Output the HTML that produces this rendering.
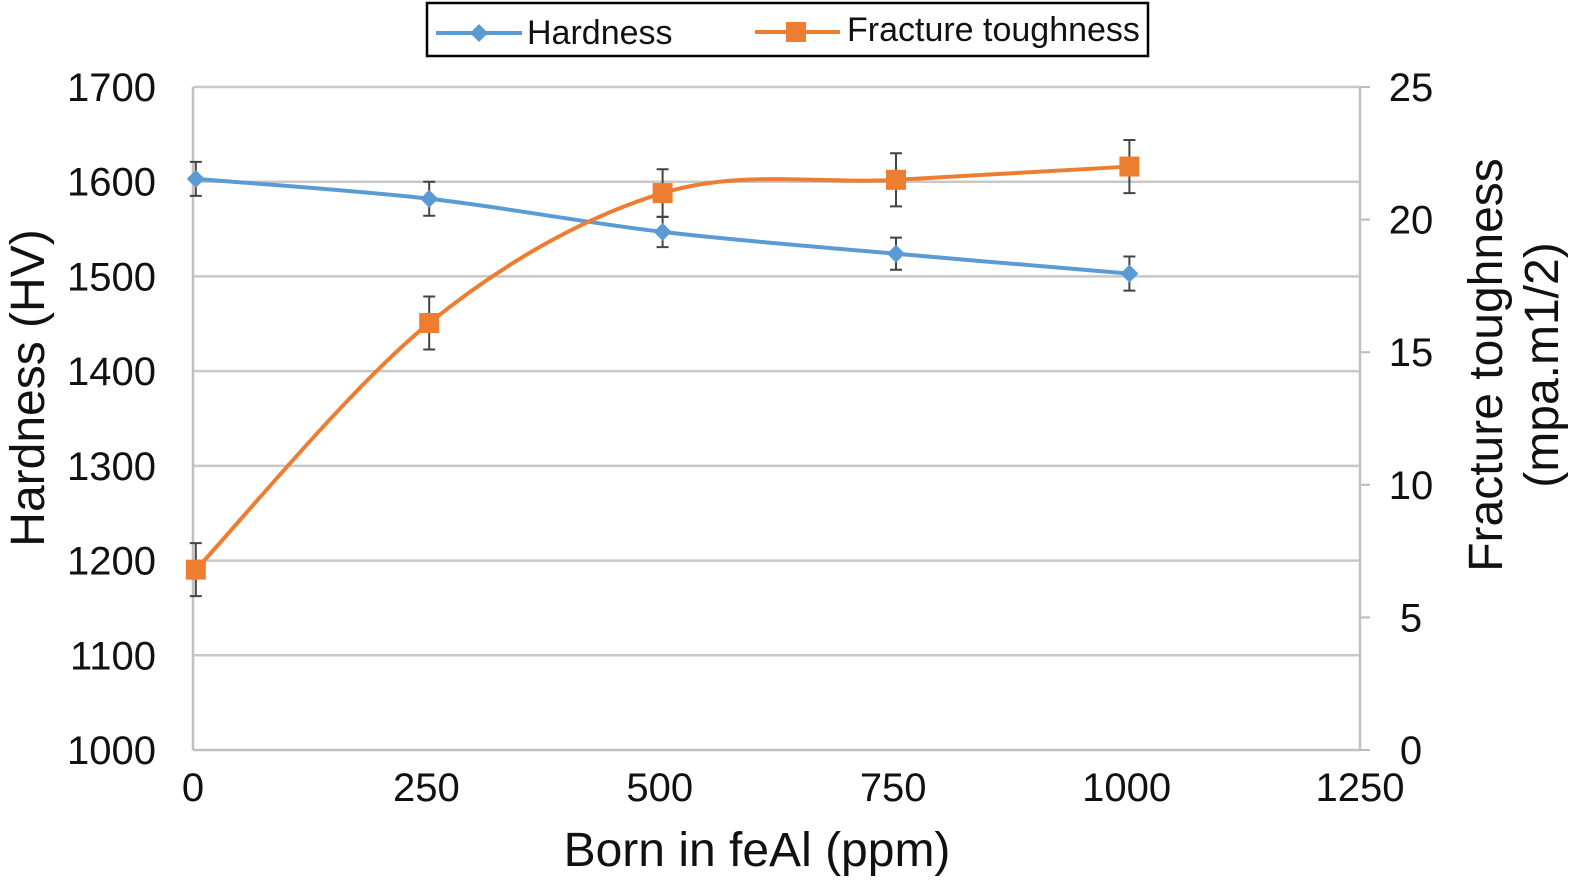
<!DOCTYPE html>
<html><head><meta charset="utf-8"><style>
html,body{margin:0;padding:0;background:#fff;}
svg{display:block;font-family:"Liberation Sans",Arial,sans-serif;}
</style></head><body>
<svg id="chart" width="1584" height="887" viewBox="0 0 1584 887">
<g id="grid"></g>
<g id="axes"></g>
<g id="series"></g>
<text x="0" y="0" transform="translate(44,388) rotate(-90)" text-anchor="middle" font-size="48" fill="#111">Hardness (HV)</text>
<text transform="translate(1502,365) rotate(-90)" text-anchor="middle" font-size="48" fill="#111"><tspan x="0" y="0">Fracture toughness</tspan><tspan x="0" y="56">(mpa.m1/2)</tspan></text>
<text x="757" y="866" text-anchor="middle" font-size="48" fill="#111">Born in feAl (ppm)</text>
<g>
<rect x="427" y="3" width="721" height="53" fill="#fff" stroke="#000" stroke-width="2.5"/>
<g>
<line x1="436" y1="33" x2="522" y2="33" stroke="#5b9bd5" stroke-width="4"/>
<path d="M479 24 L488 33 L479 42 L470 33Z" fill="#5b9bd5"/>
<text x="527" y="44" font-size="34" fill="#111">Hardness</text></g>
<g>
<line x1="755" y1="32" x2="840" y2="32" stroke="#ed7d31" stroke-width="4"/>
<rect x="786" y="22" width="20" height="20" fill="#ed7d31"/>
<text x="847" y="41" font-size="34" fill="#111">Fracture toughness</text></g>
</g>
</svg>
<script>
const xCats=[0,250,500,750,1000];
const hardness=[1603,1582,1547,1524,1503];
const hardErr=[18,18,16,17,18];
const toughness=[6.8,16.1,21.0,21.5,22.0];
const toughErr=[1.0,1.0,0.9,1.0,1.0];
const xTicks=[0,250,500,750,1000,1250];
const yLeftTicks=[1000,1100,1200,1300,1400,1500,1600,1700];
const yRightTicks=[0,5,10,15,20,25];

const NS="http://www.w3.org/2000/svg";
const X0=193,X1=1360,Y0=750,Y1=87;
const sx=v=>X0+(v+3)/1250*(X1-X0);
const sxT=v=>X0+v/1250*(X1-X0);
const syL=v=>Y0-(v-1000)/700*(Y0-Y1);
const syR=v=>Y0-v/25*(Y0-Y1);
function mk(tag,attrs,parent){const e=document.createElementNS(NS,tag);for(const k in attrs)e.setAttribute(k,attrs[k]);parent.appendChild(e);return e;}
const grid=document.getElementById('grid'),axes=document.getElementById('axes'),ser=document.getElementById('series');

yLeftTicks.forEach(t=>{
 if(t>1000){const l=mk('line',{x1:X0,x2:X1,y1:syL(t),y2:syL(t),stroke:'#c8c8c8','stroke-width':2.5},grid);
 
 }
 const tx=mk('text',{x:156,y:syL(t)+14,'text-anchor':'end','font-size':40,fill:'#111'},axes);tx.textContent=t;
 
 
});
yRightTicks.forEach(t=>{
 const tk=mk('line',{x1:X1,x2:X1+10,y1:syR(t),y2:syR(t),stroke:'#bbb','stroke-width':2},axes);
 
 
 const tx=mk('text',{x:1411,y:syR(t)+14,'text-anchor':'middle','font-size':40,fill:'#111'},axes);tx.textContent=t;
 
 
});
xTicks.forEach(t=>{
 const tx=mk('text',{x:sxT(t),y:801,'text-anchor':'middle','font-size':40,fill:'#111'},axes);tx.textContent=t;
 
 
});
[[X0,Y1,X0,Y0],[X1,Y1,X1,Y0],[X0,Y0,X1,Y0]].forEach(a=>{
 const l=mk('line',{x1:a[0],y1:a[1],x2:a[2],y2:a[3],stroke:'#c0c0c0','stroke-width':2.5},axes);
 
 
});

function smooth(pts){let d=`M${pts[0][0]},${pts[0][1]}`;
 for(let i=0;i<pts.length-1;i++){const p0=pts[i-1]||pts[i],p1=pts[i],p2=pts[i+1],p3=pts[i+2]||p2;
  d+=` C${p1[0]+(p2[0]-p0[0])/6},${p1[1]+(p2[1]-p0[1])/6} ${p2[0]-(p3[0]-p1[0])/6},${p2[1]-(p3[1]-p1[1])/6} ${p2[0]},${p2[1]}`;}
 return d;}
function drawSeries(vals,errs,sy,color,name,marker){
 const pts=vals.map((v,i)=>[sx(xCats[i]),sy(v)]);
 const p=mk('path',{d:smooth(pts),fill:'none',stroke:color,'stroke-width':4},ser);
 
 
 vals.forEach((v,i)=>{
  const x=sx(xCats[i]),yt=sy(v+errs[i]),yb=sy(v-errs[i]);
  const eb=mk('path',{d:`M${x},${yt}V${yb}M${x-6},${yt}H${x+6}M${x-6},${yb}H${x+6}`,stroke:'#444','stroke-width':2,fill:'none'},ser);
  
  
 });
 pts.forEach(([x,y])=>{
  let m;
  if(marker==='diamond')m=mk('path',{d:`M${x} ${y-9} L${x+9} ${y} L${x} ${y+9} L${x-9} ${y}Z`,fill:color},ser);
  else m=mk('rect',{x:x-10,y:y-10,width:20,height:20,fill:color},ser);
  
  
 });
}
drawSeries(hardness,hardErr,syL,'#5b9bd5','hardness','diamond');
drawSeries(toughness,toughErr,syR,'#ed7d31','toughness','square');
</script>
</body></html>
